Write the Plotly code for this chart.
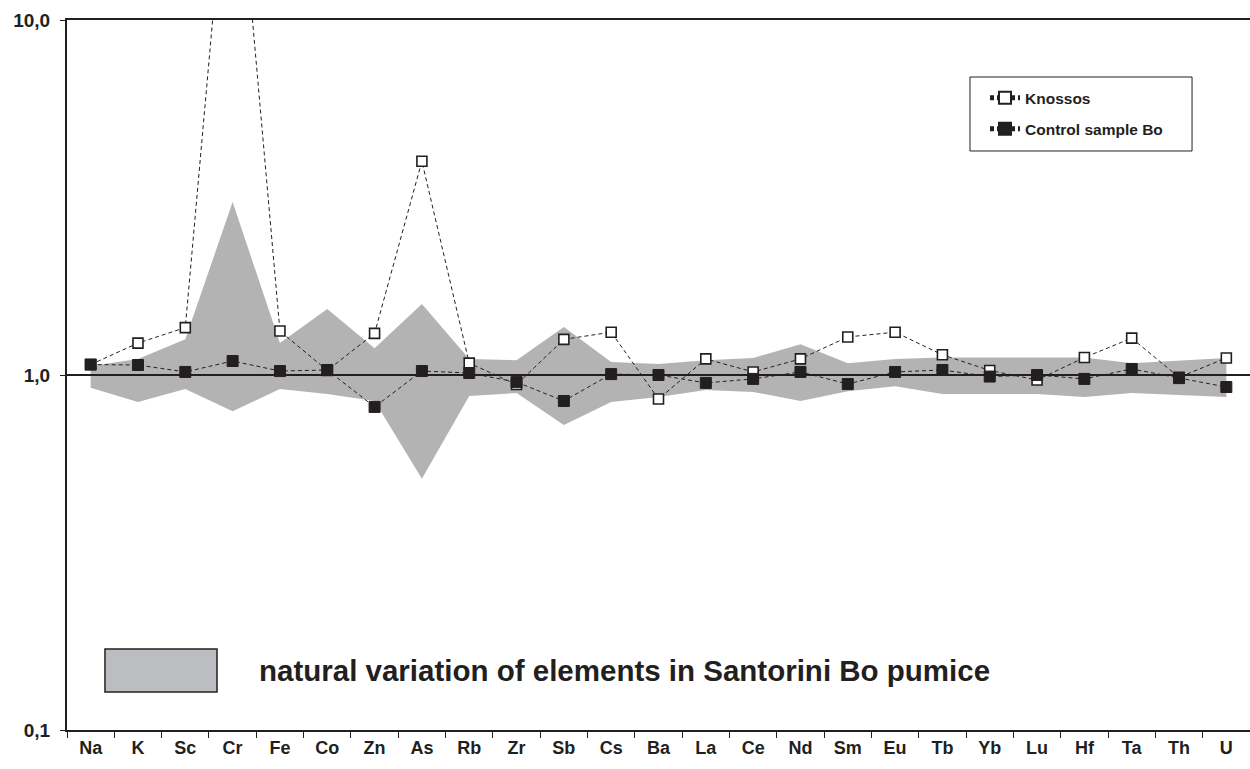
import plotly.graph_objects as go

elements = ["Na", "K", "Sc", "Cr", "Fe", "Co", "Zn", "As", "Rb", "Zr", "Sb", "Cs", "Ba",
            "La", "Ce", "Nd", "Sm", "Eu", "Tb", "Yb", "Lu", "Hf", "Ta", "Th", "U"]

knossos = [1.07, 1.23, 1.36, 43.0, 1.33, 1.03, 1.31, 4.0, 1.08, 0.94, 1.26, 1.32, 0.856,
           1.11, 1.02, 1.11, 1.28, 1.32, 1.14, 1.03, 0.968, 1.12, 1.27, 0.985, 1.117]

control_bo = [1.07, 1.067, 1.02, 1.095, 1.026, 1.033, 0.813, 1.026, 1.013, 0.955, 0.845, 1.006, 1.0,
              0.95, 0.975, 1.02, 0.943, 1.02, 1.033, 0.99, 1.0, 0.975, 1.04, 0.98, 0.925]

band_upper = [1.06, 1.11, 1.26, 3.07, 1.23, 1.535, 1.19, 1.585, 1.11, 1.10, 1.365, 1.088, 1.074,
              1.10, 1.117, 1.22, 1.08, 1.11, 1.12, 1.12, 1.12, 1.12, 1.08, 1.10, 1.117]

band_lower = [0.92, 0.84, 0.913, 0.79, 0.913, 0.884, 0.845, 0.51, 0.873, 0.89, 0.723, 0.84, 0.867,
              0.907, 0.896, 0.845, 0.90, 0.93, 0.884, 0.884, 0.884, 0.867, 0.89, 0.878, 0.867]

y_tickvals = [0.1, 1.0, 10.0]
y_ticktext = ["0,1", "1,0", "10,0"]

reference_level = [1.0, 1.0]

FONT = "Liberation Sans, Arial, Helvetica, sans-serif"
INK = "#231f20"
BAND = "#b3b3b3"

fig = go.Figure()

# layer 1: natural variation band
fig.add_trace(go.Scatter(
    x=elements + elements[::-1],
    y=band_upper + band_lower[::-1],
    fill="toself", fillcolor=BAND, mode="lines", line=dict(width=0, color=BAND),
    showlegend=False, hoverinfo="skip", xaxis="x", yaxis="y"))

# layer 2: reference line at 1.0
fig.add_trace(go.Scatter(
    x=[0, 1], y=reference_level, mode="lines", line=dict(color=INK, width=2),
    showlegend=False, hoverinfo="skip", xaxis="x2", yaxis="y2"))

# layer 3: data series
fig.add_trace(go.Scatter(
    x=elements, y=knossos, name="Knossos", mode="lines+markers",
    line=dict(color=INK, width=1, dash="4px,3px"),
    marker=dict(symbol="square", size=10, color="white", line=dict(color=INK, width=1.6)),
    legendgroup="a", xaxis="x3", yaxis="y3"))
fig.add_trace(go.Scatter(
    x=elements, y=control_bo, name="Control sample Bo", mode="lines+markers",
    line=dict(color=INK, width=1, dash="4px,3px"),
    marker=dict(symbol="square", size=11, color=INK, line=dict(color=INK, width=1)),
    legendgroup="b", xaxis="x3", yaxis="y3"))

xrange = [-0.5, len(elements) - 0.5]
yrange = [-1, 1]

fig.update_layout(
    width=1250, height=769,
    margin=dict(l=67, r=0, t=20, b=39),
    paper_bgcolor="white", plot_bgcolor="white",
    font=dict(family=FONT, color=INK, size=15, weight="bold"),
    showlegend=True,
    legend=dict(x=0.776, y=0.914, xanchor="left", yanchor="top",
                bgcolor="rgba(0,0,0,0)", borderwidth=0,
                font=dict(family=FONT, size=15.5, color=INK, weight="bold"),
                tracegroupgap=8, itemsizing="constant"),
    xaxis=dict(type="category", categoryorder="array", categoryarray=elements,
               range=xrange, showgrid=False, zeroline=False,
               showline=True, linecolor=INK, linewidth=2, mirror=True,
               ticks="outside", ticklen=6, tickwidth=1, tickcolor=INK,
               tickson="boundaries",
               tickfont=dict(family=FONT, size=18, color=INK, weight="bold")),
    yaxis=dict(type="log", range=yrange, showgrid=False, zeroline=False,
               showline=True, linecolor=INK, linewidth=2,
               tickvals=y_tickvals, ticktext=y_ticktext,
               ticks="outside", ticklen=5, tickwidth=1, tickcolor=INK,
               ticklabelstandoff=6,
               tickfont=dict(family=FONT, size=19, color=INK, weight="bold")),
    xaxis2=dict(overlaying="x", range=[0, 1], visible=False, fixedrange=True),
    yaxis2=dict(overlaying="y", type="log", range=yrange, visible=False),
    xaxis3=dict(overlaying="x", type="category", categoryorder="array",
                categoryarray=elements, range=xrange, visible=False),
    yaxis3=dict(overlaying="y", type="log", range=yrange, visible=False),
    shapes=[
        dict(type="rect", xref="paper", yref="paper", x0=0.7633, x1=0.9510, y0=0.8155, y1=0.9197,
             line=dict(color=INK, width=1), fillcolor="rgba(0,0,0,0)", layer="above"),
        dict(type="rect", xref="paper", yref="paper", x0=0.0321, x1=0.1268, y0=0.0535, y1=0.114,
             line=dict(color=INK, width=1.5), fillcolor="#bcbdc1", layer="above"),
    ],
    annotations=[
        dict(xref="paper", yref="paper", x=0.1606, y=0.0845, xanchor="left", yanchor="middle",
             text="natural variation of elements in Santorini Bo pumice", showarrow=False,
             font=dict(family=FONT, size=29.5, color=INK, weight="bold")),
    ],
)

fig.write_html("out.html")
